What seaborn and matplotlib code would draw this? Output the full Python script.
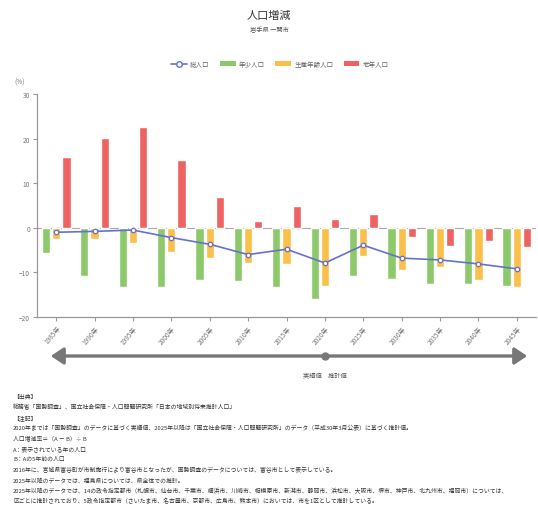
"""Population change rate chart (RESAS style)."""

import matplotlib

matplotlib.use("Agg")

import matplotlib.pyplot as plt
import numpy as np
import pandas as pd
import seaborn as sns
from matplotlib.lines import Line2D
from matplotlib.patches import FancyArrowPatch, Patch

years = ["1985年", "1990年", "1995年", "2000年", "2005年", "2010年", "2015年",
         "2020年", "2025年", "2030年", "2035年", "2040年", "2045年"]
total = [-1.0, -0.8, -0.5, -2.2, -3.7, -6.0, -4.8, -7.9, -3.9, -6.8, -7.2, -8.1, -9.2]
young = [-5.6, -10.7, -13.2, -13.2, -11.6, -11.9, -13.3, -16.0, -10.7, -11.4, -12.7, -12.7, -13.0]
working = [-2.6, -2.4, -3.3, -5.4, -6.7, -8.0, -8.2, -13.0, -6.4, -9.5, -8.8, -11.7, -13.3]
elderly = [15.9, 20.1, 22.5, 15.2, 6.9, 1.5, 4.8, 2.0, 3.0, -2.0, -4.1, -3.0, -4.3]

series_names = ["総人口", "年少人口", "生産年齢人口", "老年人口"]
bar_colors = ["#8cc96b", "#fac04a", "#ef6262"]
line_color = "#6671cc"

notes = [
    "【出典】",
    "総務省「国勢調査」、国立社会保障・人口問題研究所「日本の地域別将来推計人口」",
    "【注記】",
    "2020年までは「国勢調査」のデータに基づく実績値、2025年以降は「国立社会保障・人口問題研究所」のデータ（平成30年3月公表）に基づく推計値。",
    "人口増減率＝（A － B）÷ B",
    "A：表示されている年の人口",
    "B：Aの5年前の人口",
    "2016年に、宮城県富谷町が市制施行により富谷市となったが、国勢調査のデータについては、富谷市として表示している。",
    "2025年以降のデータでは、福島県については、県全体での推計。",
    "2025年以降のデータでは、14の政令指定都市（札幌市、仙台市、千葉市、横浜市、川崎市、相模原市、新潟市、静岡市、浜松市、大阪市、堺市、神戸市、北九州市、福岡市）については、",
    "区ごとに推計されており、5政令指定都市（さいたま市、名古屋市、京都市、広島市、熊本市）においては、市を1区として推計している。",
]

sns.set_theme(style="white")
plt.rcParams["font.family"] = ["Noto Sans CJK JP", "DejaVu Sans"]

bars = pd.DataFrame({"year": years, "年少人口": young, "生産年齢人口": working, "老年人口": elderly})
bars = bars.melt(id_vars="year", var_name="series", value_name="value")

fig = plt.figure(figsize=(5.38, 5.06), dpi=100)
ax = fig.add_axes([37 / 538, 1 - 318 / 506, 499 / 538, 223 / 506])

sns.barplot(data=bars, x="year", y="value", hue="series", palette=bar_colors,
            width=0.8, gap=0.19, ax=ax, legend=False, saturation=1)
sns.lineplot(x=np.arange(len(years)), y=total, ax=ax, color=line_color, linewidth=1.2,
             marker="o", markersize=3.2, markerfacecolor="white",
             markeredgecolor=line_color, markeredgewidth=0.9)

ax.axhline(0, color="#aaaaaa", linewidth=0.8, zorder=0.5)
ax.set_ylim(-20, 30)
ax.set_xlim(-0.5, len(years) - 0.5)
ax.set_yticks([-20, -10, 0, 10, 20, 30])
ax.set_xlabel("")
ax.set_ylabel("")
for side in ["top", "right"]:
    ax.spines[side].set_visible(False)
for side in ["left", "bottom"]:
    ax.spines[side].set_color("#999999")
    ax.spines[side].set_linewidth(0.9)
ax.tick_params(axis="both", length=3, width=0.8, color="#999999", labelsize=4.7,
               labelcolor="#777777", pad=2, bottom=True, left=True)
ax.set_xticks(np.arange(len(years)))
ax.set_xticklabels(years, rotation=50, ha="right", rotation_mode="anchor")
ax.text(-0.045, 1.045, "(%)", transform=ax.transAxes, fontsize=4.7, color="#777777")

fig.text(0.5, 1 - 16 / 506, "人口増減", ha="center", va="center", fontsize=8, color="#333333")
fig.text(0.5, 1 - 30 / 506, "岩手県 一関市", ha="center", va="center", fontsize=4.5, color="#555555")

handles = [Line2D([0], [0], color=line_color, marker="o", markerfacecolor="white",
                  markeredgecolor=line_color, markersize=4, linewidth=1.2)]
handles += [Patch(facecolor=c, edgecolor="none") for c in bar_colors]
fig.legend(handles, series_names, loc="center", bbox_to_anchor=(0.52, 1 - 65 / 506),
           ncol=4, frameon=False, fontsize=4.7, labelcolor="#666666",
           handlelength=2.4, handleheight=0.9, columnspacing=1.6, handletextpad=0.5)

# arrow separating actual values from estimates
y_arrow = 1 - 357 / 506
x_left, x_mid, x_right = 48 / 538, 325 / 538, 530 / 538
fig.add_artist(FancyArrowPatch(
    (x_left, y_arrow), (x_right, y_arrow), transform=fig.transFigure,
    arrowstyle="<|-|>,head_length=3,head_width=2", color="#777777", linewidth=2.4,
    mutation_scale=2.5))
fig.add_artist(Line2D([x_mid], [y_arrow], transform=fig.transFigure, marker="o",
                      markersize=5, color="#777777"))
fig.text(x_mid, 1 - 375 / 506, "実績値　推計値", ha="center", va="center",
         fontsize=4.5, color="#555555")

for i, line in enumerate(notes):
    fig.text(13 / 538, 1 - (397 + i * 10.4) / 506, line, ha="left", va="center",
             fontsize=4.2, color="#333333")

fig.savefig("out.png", dpi=100)
plt.close(fig)
